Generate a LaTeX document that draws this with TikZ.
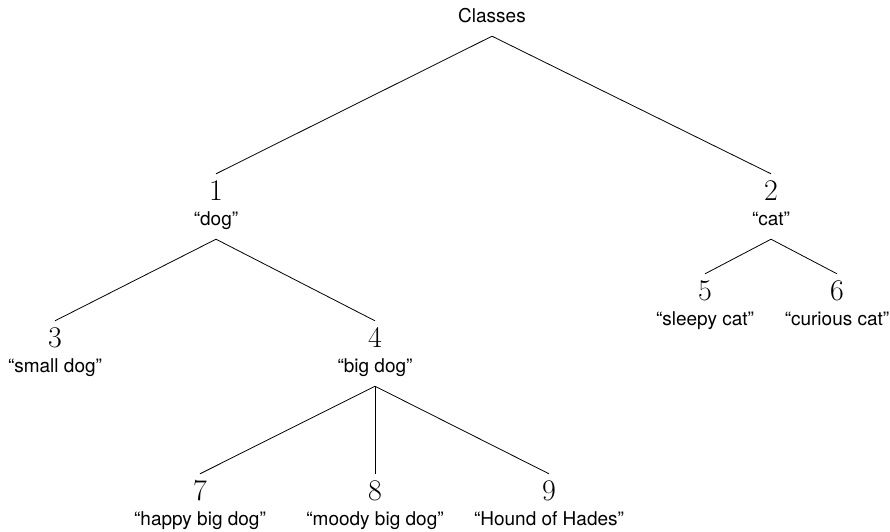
\documentclass[tikz,border=0pt]{standalone}
\usepackage{fontspec}
\setsansfont{TeX Gyre Heros}
\tikzset{
  num/.style={inner sep=0pt, anchor=base, font=\fontsize{30}{36}\selectfont, text height=26pt},
  lbl/.style={inner sep=0pt, anchor=base, font=\sffamily\fontsize{19}{23}\selectfont, text depth=14pt},
  edge/.style={line width=0.8pt}
}
\begin{document}
\begin{tikzpicture}[x=1pt,y=-1pt]
\useasboundingbox (0,0) rectangle (890,531);
\node[lbl] (r) at (492,22) {Classes};
% level 1
\node[num] (n1) at (216,200) {1};
\node[lbl] (l1) at (216,225) {“dog”};
\node[num] (n2) at (771,200) {2};
\node[lbl] (l2) at (771,225) {“cat”};
% level 2
\node[num] (n3) at (55,347) {3};
\node[lbl] (l3) at (55,372) {“small dog”};
\node[num] (n4) at (375,347) {4};
\node[lbl] (l4) at (375,372) {“big dog”};
\node[num] (n5) at (705,300) {5};
\node[lbl] (l5) at (705,325) {“sleepy cat”};
\node[num] (n6) at (837,300) {6};
\node[lbl] (l6) at (837,325) {“curious cat”};
% level 3
\node[num] (n7) at (200,500) {7};
\node[lbl] (l7) at (200,525) {“happy big dog”};
\node[num] (n8) at (375,500) {8};
\node[lbl] (l8) at (375,525) {“moody big dog”};
\node[num] (n9) at (549,500) {9};
\node[lbl] (l9) at (549,525) {“Hound of Hades”};
% edges
\draw[edge] (r.south) -- (n1.north);
\draw[edge] (r.south) -- (n2.north);
\draw[edge] (l1.south) -- (n3.north);
\draw[edge] (l1.south) -- (n4.north);
\draw[edge] (l2.south) -- (n5.north);
\draw[edge] (l2.south) -- (n6.north);
\draw[edge] (l4.south) -- (n7.north);
\draw[edge] (l4.south) -- (n8.north);
\draw[edge] (l4.south) -- (n9.north);
\end{tikzpicture}
\end{document}
